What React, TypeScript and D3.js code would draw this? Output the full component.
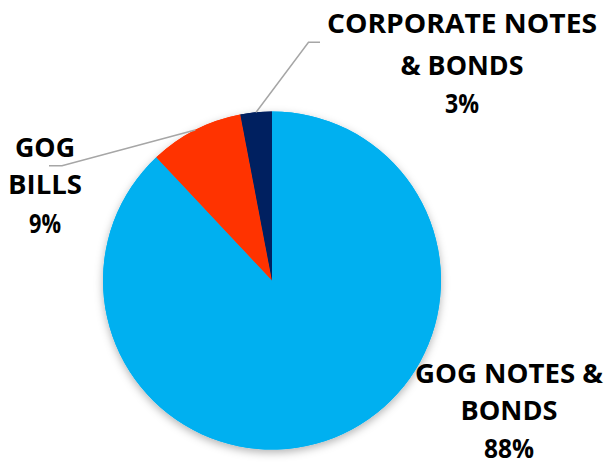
import React from "react";
import * as d3 from "d3";

const categories = ["GOG NOTES & BONDS", "GOG BILLS", "CORPORATE NOTES & BONDS"];
const values = [88, 9, 3];
const colors = ["#00B0F0", "#FF3300", "#002060"];
const labelLines = [["GOG NOTES &", "BONDS"], ["GOG", "BILLS"], ["CORPORATE NOTES", "& BONDS"]];

const W = 608, H = 462;
const cx = 272, cy = 280.5, R = 169;

// label layout: center x, baselines, widths for fitting
const labelLayout = [
  { x: 509, ys: [383, 420, 458], widths: [188, 97, 50] },
  { x: 45, ys: [157, 194, 233], widths: [60, 74, 32] },
  { x: 462, ys: [33, 75, 113], widths: [270, 123, 34] },
];
// leader elbows [elbow point, end point] (null for no leader)
const leaders: ([number, number][] | null)[] = [
  null,
  [[62, 165.7], [49, 165.7]],
  [[308.5, 42.3], [320, 42.3]],
];

export default function App() {
  const pie = d3.pie<number>().sort(null).value((d) => d)(values);
  const arc = d3.arc<d3.PieArcDatum<number>>().innerRadius(0).outerRadius(R);
  const edgeArc = d3.arc<d3.PieArcDatum<number>>().innerRadius(R).outerRadius(R);
  const total = d3.sum(values);
  const fmt = (v: number) => Math.round((v / total) * 100) + "%";
  const line = d3.line();

  return (
    <svg width={W} height={H} style={{ position: "absolute", left: 0, top: 0, background: "#fff" }}>
      <defs>
        <filter id="sh" x="-20%" y="-20%" width="140%" height="140%">
          <feDropShadow dx="0" dy="3" stdDeviation="4" floodColor="#000" floodOpacity="0.3" />
        </filter>
      </defs>
      <g transform={`translate(${cx},${cy})`} filter="url(#sh)">
        {pie.map((p, i) => (
          <path key={i} d={arc(p) || ""} fill={colors[i]} />
        ))}
      </g>
      <g transform={`translate(${cx},${cy})`}>
        {pie.map((p, i) => (
          <path key={i} d={arc(p) || ""} fill={colors[i]} />
        ))}
      </g>
      {pie.map((p, i) => {
        const lp = leaders[i];
        if (!lp) return null;
        const [ex, ey] = edgeArc.centroid(p);
        const pts: [number, number][] = [[cx + ex, cy + ey], ...lp];
        return <path key={i} d={line(pts) || ""} fill="none" stroke="#A6A6A6" strokeWidth={1.5} />;
      })}
      {categories.map((c, i) => {
        const L = labelLayout[i];
        const lines = [...labelLines[i], fmt(values[i])];
        return (
          <g key={c}>
            {lines.map((t, j) => (
              <text
                key={j}
                x={L.x}
                y={L.ys[j]}
                textAnchor="middle"
                fontFamily="'Open Sans', sans-serif"
                fontWeight={700}
                fontSize={26}
                fill="#000"
                textLength={L.widths[j]}
                lengthAdjust="spacingAndGlyphs"
              >
                {t}
              </text>
            ))}
          </g>
        );
      })}
    </svg>
  );
}
